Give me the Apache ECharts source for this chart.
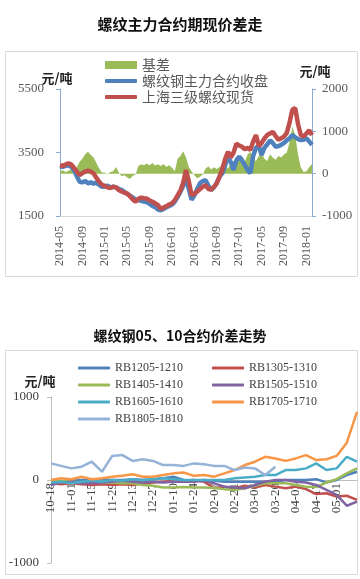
<!DOCTYPE html>
<html><head><meta charset="utf-8">
<script src="https://cdn.jsdelivr.net/npm/echarts@6/dist/echarts.min.js"></script>
<style>html,body{margin:0;padding:0;background:#fff}#c{width:360px;height:579px}</style>
</head><body><div id="c"></div>
<script>
// ---------- Top chart data (semi-monthly) ----------
const topDates = [
'2014-05-01','2014-05-16','2014-06-01','2014-06-16','2014-07-01','2014-07-16','2014-08-01','2014-08-16',
'2014-09-01','2014-09-16','2014-10-01','2014-10-16','2014-11-01','2014-11-16','2014-12-01','2014-12-16',
'2015-01-01','2015-01-16','2015-02-01','2015-02-16','2015-03-01','2015-03-16','2015-04-01','2015-04-16',
'2015-05-01','2015-05-16','2015-06-01','2015-06-16','2015-07-01','2015-07-16','2015-08-01','2015-08-16',
'2015-09-01','2015-09-16','2015-10-01','2015-10-16','2015-11-01','2015-11-16','2015-12-01','2015-12-16',
'2016-01-01','2016-01-16','2016-02-01','2016-02-16','2016-03-01','2016-03-16','2016-04-01','2016-04-16',
'2016-05-01','2016-05-16','2016-06-01','2016-06-16','2016-07-01','2016-07-16','2016-08-01','2016-08-16',
'2016-09-01','2016-09-16','2016-10-01','2016-10-16','2016-11-01','2016-11-16','2016-12-01','2016-12-16',
'2017-01-01','2017-01-16','2017-02-01','2017-02-16','2017-03-01','2017-03-16','2017-04-01','2017-04-16',
'2017-05-01','2017-05-16','2017-06-01','2017-06-16','2017-07-01','2017-07-16','2017-08-01','2017-08-16',
'2017-09-01','2017-09-16','2017-10-01','2017-10-16','2017-11-01','2017-11-16','2017-12-01','2017-12-16',
'2018-01-01','2018-01-16','2018-02-01'];
const topTicks = ['2014-05','2014-09','2015-01','2015-05','2015-09','2016-01','2016-05','2016-09','2017-01','2017-05','2017-09','2018-01'];
const spot = [3100,3080,3120,3160,3120,3020,2900,2790,2850,2900,
 2930,2900,2840,2700,2580,2480,2450,2400,2380,2420,
 2400,2320,2270,2230,2210,2120,2020,1950,2040,2080,
 2060,2050,1990,1950,1900,1840,1720,1770,1810,1860,
 1900,2000,2150,2300,2550,2950,2600,2150,2200,2270,
 2350,2420,2470,2350,2330,2420,2530,2750,2980,3300,
 3520,3350,3500,3780,3720,3680,3600,3650,3580,3850,
 4050,3700,3800,3940,4050,4100,4150,4020,3900,3950,
 4000,4120,4450,4850,4900,4400,4050,4000,4100,4200,
 4050];
const futures = [3060,3050,3080,3100,3050,2950,2750,2580,2560,2600,
 2530,2560,2520,2550,2480,2420,2430,2460,2400,2420,
 2400,2350,2320,2260,2200,2140,2080,2020,2000,1980,
 1950,1940,1880,1820,1780,1700,1680,1720,1780,1810,
 1860,1950,2100,2260,2450,2690,2350,2010,2150,2350,
 2530,2600,2630,2450,2320,2400,2550,2740,2850,3100,
 3370,3200,2950,3250,3370,3250,3100,2950,2850,3400,
 3650,3700,3420,3650,3750,3880,3800,3680,3700,3740,
 3800,3880,3950,4050,3980,3920,3890,3900,3950,3850,
 3740];
const basis = [60,80,40,70,100,60,150,280,350,460,
 520,440,380,250,120,30,20,-20,40,60,
 160,30,-60,-40,-90,-120,-50,-20,180,220,
 200,240,200,250,190,220,180,230,160,200,
 140,60,350,420,530,380,160,60,-40,-110,
 -70,-20,120,170,100,150,110,160,230,180,
 120,250,300,240,350,410,280,450,520,350,
 300,420,480,350,300,450,380,330,420,380,
 450,500,750,1100,900,450,150,40,60,150,
 230];

// ---------- Bottom chart data (weekly) ----------
const botDates = ['10-18','10-25','11-01','11-08','11-15','11-22','11-29','12-06','12-13','12-20','12-27',
 '01-03','01-10','01-17','01-24','01-31','02-07','02-14','02-21','02-28','03-06','03-13','03-20','03-27',
 '04-03','04-10','04-17','04-24','05-01','05-08','05-15'];
const botTicks = ['10-18','11-01','11-15','11-29','12-13','12-27','01-10','01-24','02-07','02-21','03-06','03-20','04-03','04-17','05-01'];
const rb1205 = [-50,-20,-10,0,10,10,0,0,10,0,10,20,40,0,-10,0,-10,-20,-20,-20,-20,-20,-20,0,0,0,10,-30,0,60,100];
const rb1305 = [-40,-50,-40,-50,-60,-50,-60,-50,-60,-40,-30,-20,-10,-10,0,-20,-100,-80,-100,-70,-90,-60,-80,-100,-80,-110,-170,-160,-200,-190,-240];
const rb1405 = [-20,-10,-20,-30,-20,-30,-30,-40,-40,-60,-70,-90,-90,-85,-90,-90,-95,-110,-120,-100,-70,-40,-40,-40,-60,-80,-85,-30,10,80,140];
const rb1505 = [-60,-30,-20,-40,-40,-30,-20,-10,-20,-30,-20,-30,-20,-20,-20,-10,-40,-80,-90,-100,-60,-20,0,0,-20,-30,-60,-120,-180,-310,-260];
const rb1605 = [-30,-20,-40,-20,-10,-20,0,-10,10,0,10,20,10,0,0,0,0,0,20,30,40,60,60,120,120,140,200,120,140,280,220];
const rb1705 = [0,20,10,40,10,20,40,50,70,40,40,60,80,90,50,60,40,80,120,180,220,280,260,230,260,300,240,250,290,450,820];
const rb1805 = [200,170,140,160,220,100,290,300,230,250,230,180,180,170,200,190,170,170,120,150,140,60,160,null,null,null,null,null,null,null,null];

const botNames = ['RB1205-1210','RB1305-1310','RB1405-1410','RB1505-1510','RB1605-1610','RB1705-1710','RB1805-1810'];
const botSeriesData = [rb1205, rb1305, rb1405, rb1505, rb1605, rb1705, rb1805];
const botColors = ['#4f81bd','#c0504d','#9bbb59','#8064a2','#4bacc6','#f79646','#95b3d7'];

const serif = "'Liberation Serif', 'Times New Roman', serif";
const cjk = "'Noto Sans CJK SC', sans-serif";
const plain = v => String(v);

const chart = echarts.init(document.getElementById('c'), null, {renderer: 'canvas'});

const botSeries = botNames.map((n, i) => ({
  name: n, type: 'line', xAxisIndex: 1, yAxisIndex: 2,
  data: botSeriesData[i], symbol: 'none', connectNulls: false,
  lineStyle: {width: 2.5, color: botColors[i]}, itemStyle: {color: botColors[i]}
}));

const botLegendBase = {orient: 'vertical', top: 357, itemWidth: 32, itemHeight: 3, itemGap: 5,
  icon: 'roundRect', textStyle: {fontFamily: serif, fontSize: 12, lineHeight: 12, color: '#404040'}};

const option = {
  animation: false,
  backgroundColor: '#fff',
  title: [
    {text: '螺纹主力合约期现价差走', left: 'center', top: 12,
     textStyle: {fontFamily: cjk, fontSize: 15, fontWeight: 'bold', color: '#111'}},
    {text: '螺纹钢05、10合约价差走势', left: 'center', top: 324,
     textStyle: {fontFamily: cjk, fontSize: 14, fontWeight: 'bold', color: '#111'}}
  ],
  graphic: [
    {type: 'rect', shape: {x: 5.5, y: 51.5, width: 352, height: 225}, style: {fill: 'none', stroke: '#d9d9d9', lineWidth: 1}, silent: true},
    {type: 'rect', shape: {x: 5.5, y: 350.5, width: 352, height: 224}, style: {fill: 'none', stroke: '#d9d9d9', lineWidth: 1}, silent: true},
    {type: 'text', x: 57, y: 78, style: {text: '元/吨', font: 'bold 13px ' + cjk, fill: '#222', textAlign: 'center', textVerticalAlign: 'middle'}},
    {type: 'text', x: 315, y: 71, style: {text: '元/吨', font: 'bold 13px ' + cjk, fill: '#222', textAlign: 'center', textVerticalAlign: 'middle'}},
    {type: 'text', x: 40, y: 381, style: {text: '元/吨', font: 'bold 13px ' + cjk, fill: '#222', textAlign: 'center', textVerticalAlign: 'middle'}}
  ],
  legend: [
    {orient: 'vertical', left: 100, top: 53, itemWidth: 32, itemHeight: 8, icon: 'rect',
     textStyle: {fontFamily: cjk, fontSize: 14, lineHeight: 14, color: '#595959'},
     data: ['基差']},
    {orient: 'vertical', left: 100, top: 69, itemWidth: 32, itemHeight: 4, itemGap: 2, icon: 'roundRect',
     textStyle: {fontFamily: cjk, fontSize: 14, lineHeight: 14, color: '#595959'},
     data: ['螺纹钢主力合约收盘', '上海三级螺纹现货']},
    Object.assign({}, botLegendBase, {left: 73, data: ['RB1205-1210','RB1405-1410','RB1605-1610','RB1805-1810']}),
    Object.assign({}, botLegendBase, {left: 207, data: ['RB1305-1310','RB1505-1510','RB1705-1710']})
  ],
  grid: [
    {left: 60, top: 89, width: 252, height: 127, containLabel: false, outerBoundsMode: 'none'},
    {left: 51, top: 397, width: 306, height: 166, containLabel: false, outerBoundsMode: 'none'}
  ],
  xAxis: [
    {type: 'category', gridIndex: 0, data: topDates, boundaryGap: false,
     axisLine: {onZero: false, lineStyle: {color: '#d9d9d9'}}, axisTick: {show: false},
     axisLabel: {rotate: 90, margin: 10, fontFamily: serif, fontSize: 12, color: '#595959',
       interval: (idx, val) => val.endsWith('-01') && topTicks.includes(val.slice(0, 7)),
       formatter: v => v.slice(0, 7)},
     splitLine: {show: false}},
    {type: 'category', gridIndex: 1, data: botDates, boundaryGap: false, position: 'bottom', offset: -83,
     axisLine: {onZero: false, lineStyle: {color: '#bfbfbf'}}, axisTick: {show: false},
     axisLabel: {rotate: 90, margin: 3, fontFamily: serif, fontSize: 13, color: '#404040',
       interval: (idx, val) => botTicks.includes(val)},
     splitLine: {show: false}}
  ],
  yAxis: [
    {type: 'value', gridIndex: 0, min: 1500, max: 5500, interval: 2000, position: 'left',
     axisLine: {show: true, lineStyle: {color: '#8ea9cf'}}, axisTick: {show: true, length: 4, lineStyle: {color: '#8ea9cf'}},
     axisLabel: {fontFamily: serif, fontSize: 13, color: '#595959', margin: 16, formatter: plain}, splitLine: {show: false}},
    {type: 'value', gridIndex: 0, min: -1000, max: 2000, interval: 1000, position: 'right',
     axisLine: {show: true, lineStyle: {color: '#8ea9cf'}}, axisTick: {show: true, length: 4, lineStyle: {color: '#8ea9cf'}},
     axisLabel: {fontFamily: serif, fontSize: 13, color: '#595959', margin: 10, formatter: plain}, splitLine: {show: false}},
    {type: 'value', gridIndex: 1, min: -1000, max: 1000, interval: 1000,
     axisLine: {show: true, lineStyle: {color: '#bfbfbf'}}, axisTick: {show: true, length: 4, lineStyle: {color: '#bfbfbf'}},
     axisLabel: {fontFamily: serif, fontSize: 13, color: '#404040', margin: 12, formatter: plain}, splitLine: {show: false}}
  ],
  series: [
    {name: '基差', type: 'line', xAxisIndex: 0, yAxisIndex: 1, data: basis, symbol: 'none',
     lineStyle: {width: 0, color: '#9bbb59'}, itemStyle: {color: '#9bbb59'},
     areaStyle: {color: '#9bbb59', opacity: 1}},
    {name: '螺纹钢主力合约收盘', type: 'line', xAxisIndex: 0, yAxisIndex: 0, data: futures, symbol: 'none',
     lineStyle: {width: 4.5, color: '#4f81bd'}, itemStyle: {color: '#4f81bd'}},
    {name: '上海三级螺纹现货', type: 'line', xAxisIndex: 0, yAxisIndex: 0, data: spot, symbol: 'none',
     lineStyle: {width: 4.5, color: '#c0504d'}, itemStyle: {color: '#c0504d'}},
    ...botSeries
  ]
};
chart.setOption(option);
</script>
</body></html>
